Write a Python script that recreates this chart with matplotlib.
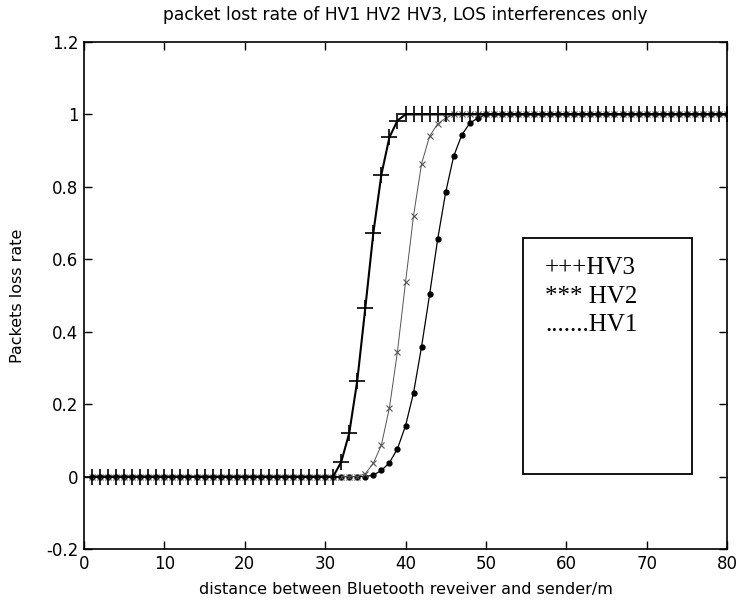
import numpy as np
import matplotlib
matplotlib.use("Agg")
import matplotlib.pyplot as plt
from matplotlib.patches import Rectangle

# distance, m
x = np.arange(1, 81)

# rising parts, zero before, one after
hv3_rise = {31: 0.0, 32: 0.04, 33: 0.12, 34: 0.265, 35: 0.466, 36: 0.673,
            37: 0.834, 38: 0.937, 39: 0.983}
hv2_rise = {35: 0.008, 36: 0.037, 37: 0.087, 38: 0.19, 39: 0.345, 40: 0.536,
            41: 0.72, 42: 0.864, 43: 0.94, 44: 0.974, 45: 0.99}
hv1_rise = {36: 0.004, 37: 0.017, 38: 0.038, 39: 0.077, 40: 0.14, 41: 0.231,
            42: 0.359, 43: 0.503, 44: 0.655, 45: 0.785, 46: 0.885, 47: 0.943,
            48: 0.976, 49: 0.99}


def build(rise):
    start = min(rise)
    vals = []
    for d in x:
        if d in rise:
            vals.append(rise[d])
        elif d < start:
            vals.append(0.0)
        else:
            vals.append(1.0)
    return np.array(vals)


hv3 = build(hv3_rise)
hv2 = build(hv2_rise)
hv1 = build(hv1_rise)

legend_lines = ["+++HV3", "*** HV2", ".......HV1"]

fig = plt.figure(figsize=(7.39, 6.04), dpi=100)
ax = fig.add_axes([84 / 739, 1 - 549 / 604, (727 - 84) / 739, (549 - 42) / 604])

ax.plot(x, hv1, color="black", lw=0.9, marker=".", ms=7)
ax.plot(x, hv2, color="#555555", lw=0.7, marker="x", ms=4, mew=0.8)
ax.plot(x, hv3, color="black", lw=1.5, marker="+", ms=11, mew=1.2)

ax.set_xlim(0, 80)
ax.set_ylim(-0.2, 1.2)
ax.set_xticks(np.arange(0, 81, 10))
ax.set_yticks(np.round(np.arange(-0.2, 1.21, 0.2), 1))
ax.set_yticklabels(["-0.2", "0", "0.2", "0.4", "0.6", "0.8", "1", "1.2"])
ax.tick_params(direction="in", top=True, right=True, length=6, width=1,
               labelsize=12, pad=4)
for s in ax.spines.values():
    s.set_linewidth(1.2)

ax.set_title("packet lost rate of HV1 HV2 HV3, LOS interferences only",
             fontsize=12.3, pad=16)
ax.set_xlabel("distance between Bluetooth reveiver and sender/m", fontsize=11.5,
              labelpad=7)
ax.set_ylabel("Packets loss rate", fontsize=11.5, labelpad=15)

# hand drawn legend box
ax.add_patch(Rectangle((0.683, 0.148), 0.262, 0.466, transform=ax.transAxes,
                       fill=True, facecolor="white", edgecolor="black", lw=1.3,
                       zorder=5))
for i, t in enumerate(legend_lines):
    ax.text(0.717, 0.555 - i * 0.057, t, transform=ax.transAxes,
            family="Liberation Serif", fontsize=18, va="center", zorder=6)

fig.savefig("out.png", dpi=100)
